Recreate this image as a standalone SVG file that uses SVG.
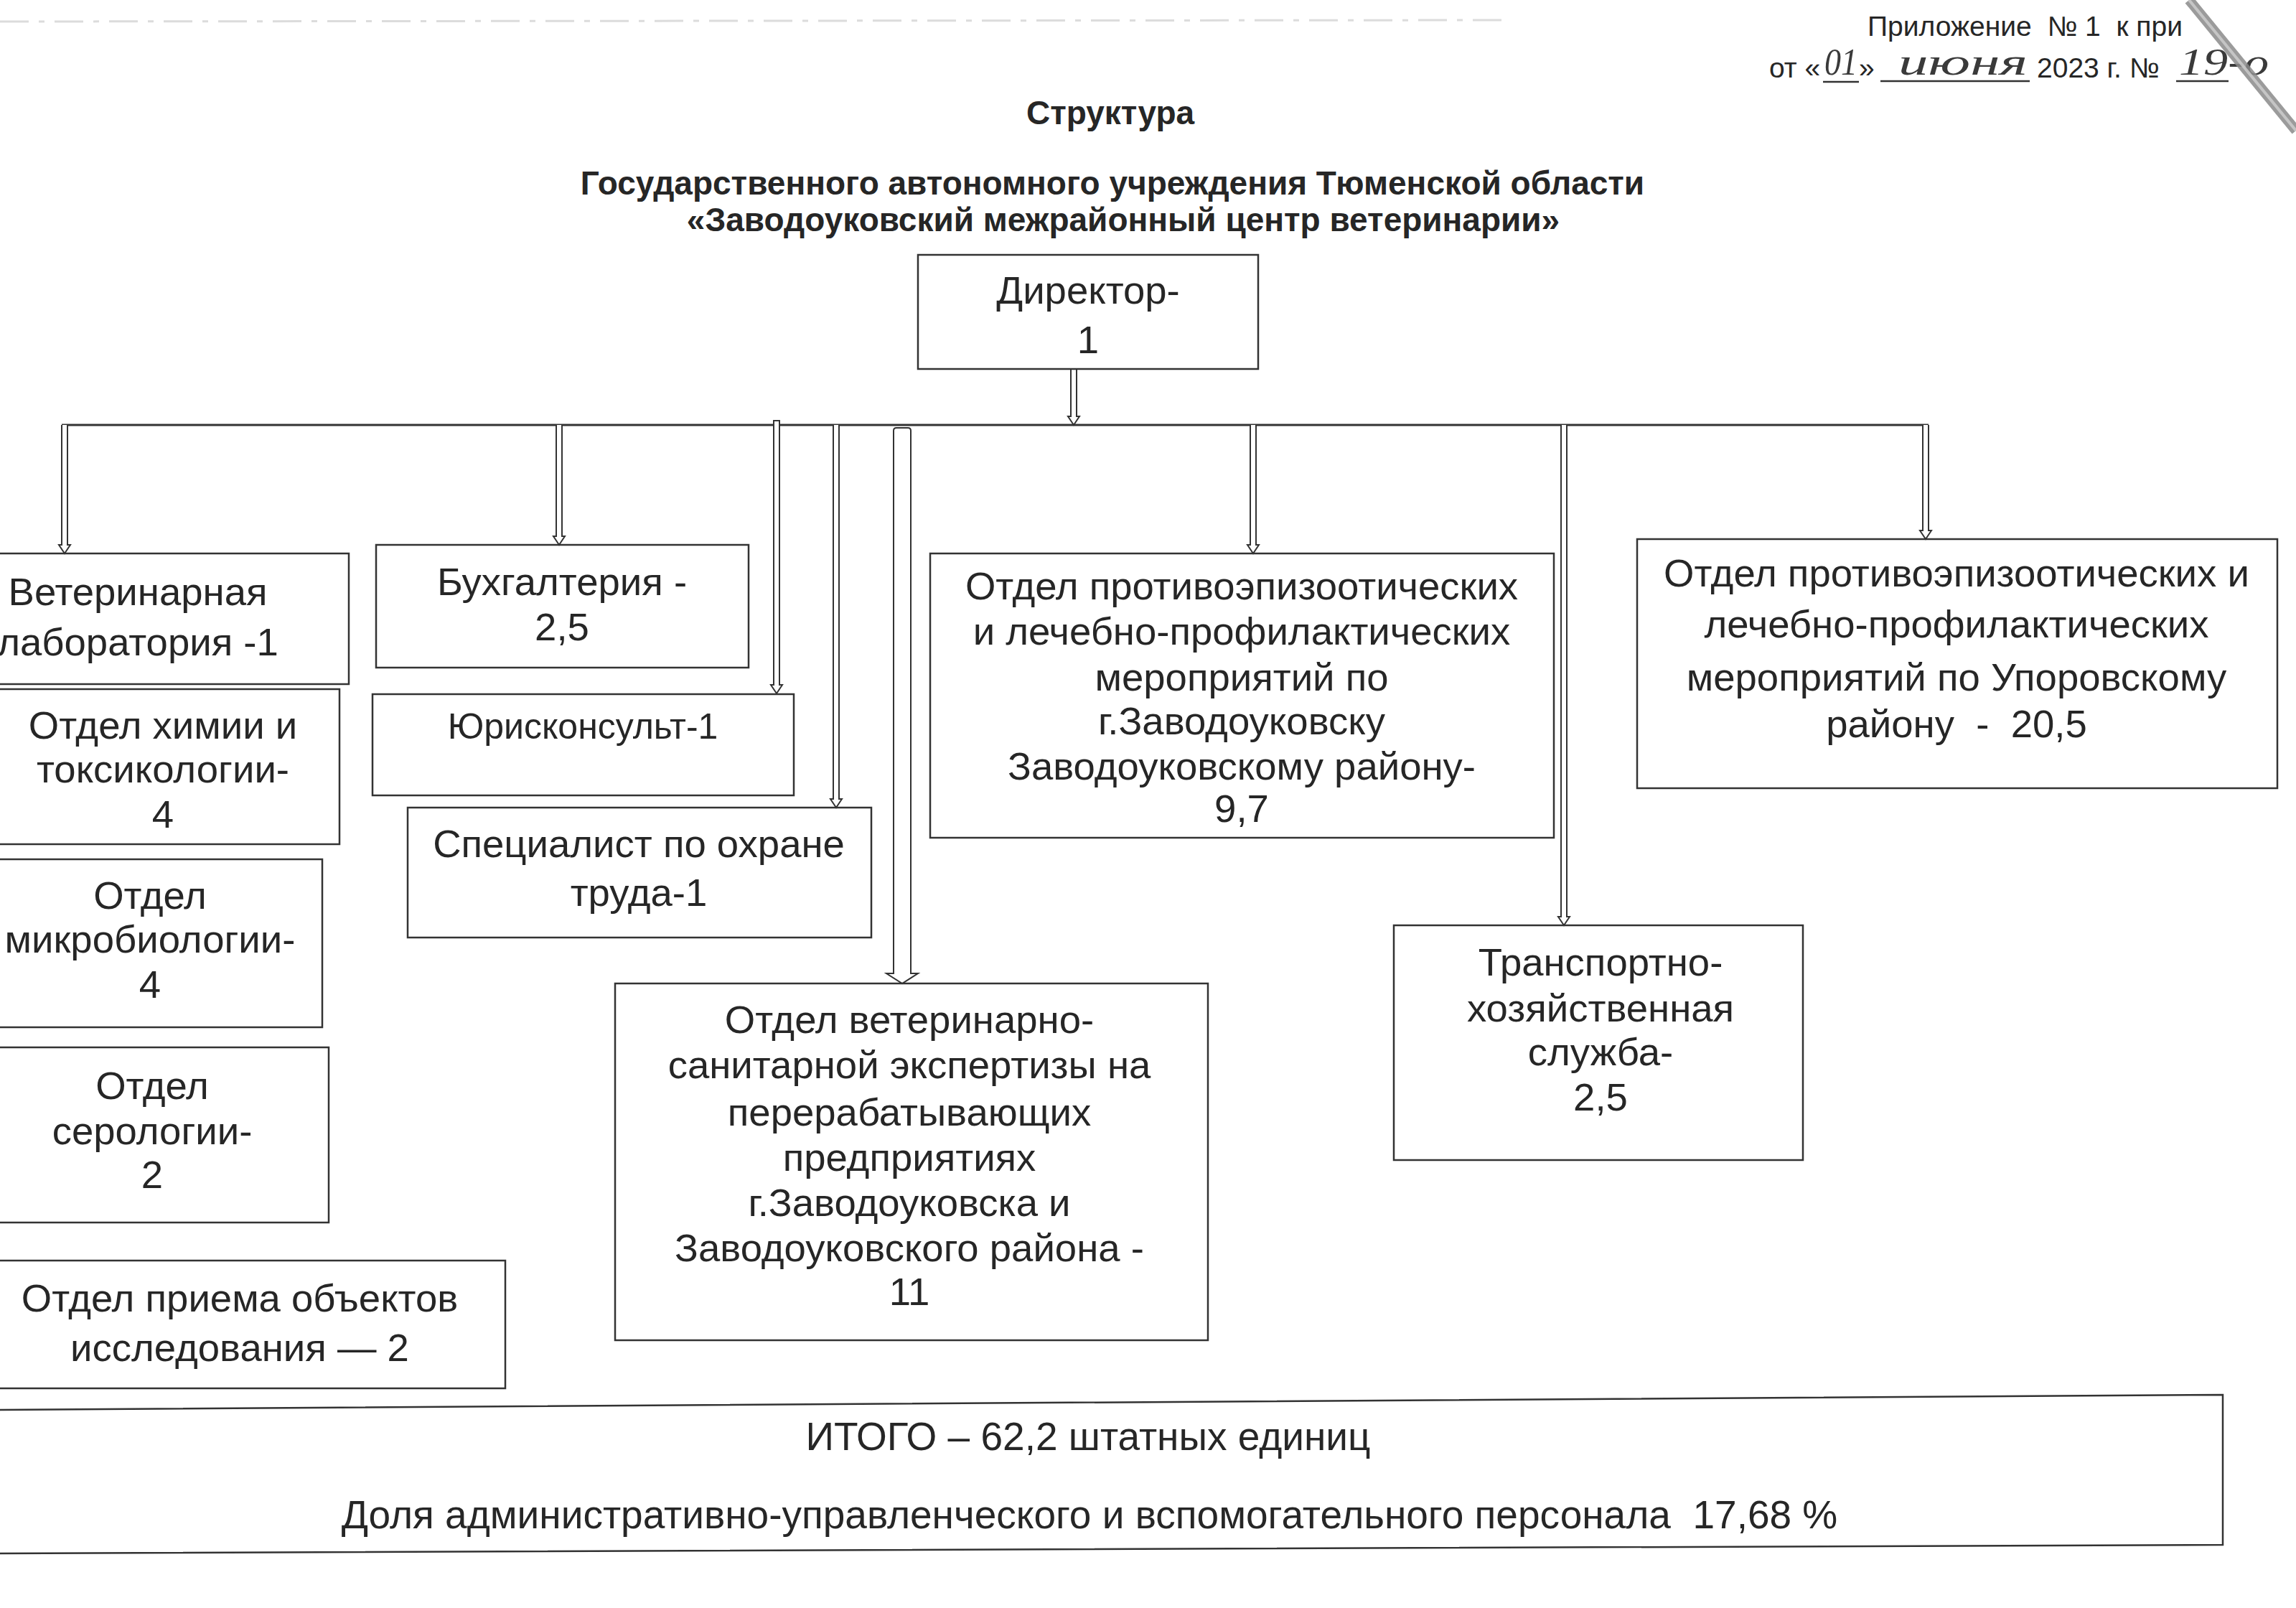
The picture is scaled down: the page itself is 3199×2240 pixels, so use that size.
<svg xmlns="http://www.w3.org/2000/svg" width="3199" height="2240" viewBox="0 0 3199 2240">
<style>
  .bg { fill: #ffffff; }
  .box { fill: none; stroke: #333; stroke-width: 2.5; }
  .t { font-family: "Liberation Sans", Arial, sans-serif; font-size: 54.5px; fill: #262626; text-anchor: middle; }
  .ts { font-size: 50px; }
  .title { font-family: "Liberation Sans", Arial, sans-serif; font-weight: bold; font-size: 46px; fill: #262626; text-anchor: middle; }
  .hdr { font-family: "Liberation Sans", Arial, sans-serif; font-size: 39px; fill: #262626; }
  .hand { font-family: "Liberation Serif", "Times New Roman", serif; font-style: italic; font-size: 52px; fill: #3a3a3a; }
  .ul { stroke: #333; stroke-width: 2.5; }
  .arr { fill: #ffffff; stroke: #333; stroke-width: 2; stroke-linejoin: miter; }
  .bus { stroke: #333; stroke-width: 3; fill: none; }
</style>
<rect class="bg" x="0" y="0" width="3199" height="2240"/>

<!-- scan artefacts -->
<line x1="0" y1="30" x2="2100" y2="28" stroke="#dcdcdc" stroke-width="3" stroke-dasharray="40 14 8 14"/>

<!-- header -->
<g id="header">
  <text class="hdr" x="2602" y="50" xml:space="preserve">Приложение  № 1  к при</text>
  <text class="hdr" x="2465" y="108">от «</text>
  <text class="hand" x="2542" y="104" textLength="46" lengthAdjust="spacingAndGlyphs">01</text>
  <line class="ul" x1="2540" y1="114" x2="2590" y2="114"/>
  <text class="hdr" x="2590" y="108">»</text>
  <line class="ul" x1="2620" y1="113" x2="2828" y2="113"/>
  <text class="hand" x="2645" y="104" textLength="180" lengthAdjust="spacingAndGlyphs">июня</text>
  <text class="hdr" x="2838" y="108">2023 г. №</text>
  <text class="hand" x="3036" y="104" textLength="125" lengthAdjust="spacingAndGlyphs">19-о</text>
  <line class="ul" x1="3032" y1="113" x2="3105" y2="113"/>
</g>
<line x1="3050" y1="0" x2="3199" y2="182" stroke="#8a8a8a" stroke-width="14" opacity="0.85"/>
<line x1="3050" y1="0" x2="3199" y2="182" stroke="#d0d0d0" stroke-width="4" opacity="0.8"/>

<!-- title -->
<g id="title">
  <text class="title" x="1547" y="173">Структура</text>
  <text class="title" x="1550" y="271">Государственного автономного учреждения Тюменской области</text>
  <text class="title" x="1565" y="322">«Заводоуковский межрайонный центр ветеринарии»</text>
</g>

<!-- connectors -->
<g id="connectors">
  <line class="bus" x1="86" y1="592" x2="2687" y2="592"/>
  <path class="arr" d="M1492,514 V580 H1488 L1496,592 L1504,580 H1500 V514"/>
  <path class="arr" d="M86,592 V759 H82 L90,771 L98,759 H94 V592"/>
  <path class="arr" d="M775,592 V747 H771 L779,759 L787,747 H783 V592"/>
  <path class="arr" d="M1078,586 V954 H1074 L1082,966 L1090,954 H1086 V586 Z"/>
  <path class="arr" d="M1161,592 V1113 H1157 L1165,1125 L1173,1113 H1169 V592"/>
  <path class="arr" d="M1245,600 Q1245,596 1249,596 H1265 Q1269,596 1269,600 V1356 H1279 L1257,1370 L1235,1356 H1245 Z"/>
  <path class="arr" d="M1742,592 V759 H1738 L1746,771 L1754,759 H1750 V592"/>
  <path class="arr" d="M2175,592 V1277 H2171 L2179,1289 L2187,1277 H2183 V592"/>
  <path class="arr" d="M2679,592 V739 H2675 L2683,751 L2691,739 H2687 V592"/>
</g>

<!-- nodes -->
<g id="director">
  <rect class="box" x="1279" y="355" width="474" height="159"/>
  <text class="t" x="1516" y="423">Директор-</text>
  <text class="t" x="1516" y="492">1</text>
</g>

<g id="vetlab">
  <rect class="box" x="-10" y="771" width="496" height="182"/>
  <text class="t" x="192" y="843">Ветеринарная</text>
  <text class="t" x="192" y="913">лаборатория -1</text>
</g>

<g id="chemistry">
  <rect class="box" x="-10" y="960" width="483" height="216"/>
  <text class="t" x="227" y="1029">Отдел химии и</text>
  <text class="t" x="227" y="1090">токсикологии-</text>
  <text class="t" x="227" y="1153">4</text>
</g>

<g id="microbiology">
  <rect class="box" x="-10" y="1197" width="459" height="234"/>
  <text class="t" x="209" y="1266">Отдел</text>
  <text class="t" x="209" y="1327">микробиологии-</text>
  <text class="t" x="209" y="1390">4</text>
</g>

<g id="serology">
  <rect class="box" x="-10" y="1459" width="468" height="244"/>
  <text class="t" x="212" y="1531">Отдел</text>
  <text class="t" x="212" y="1594">серологии-</text>
  <text class="t" x="212" y="1655">2</text>
</g>

<g id="reception">
  <rect class="box" x="-10" y="1756" width="714" height="178"/>
  <text class="t" x="334" y="1827">Отдел приема объектов</text>
  <text class="t" x="334" y="1896">исследования — 2</text>
</g>

<g id="accounting">
  <rect class="box" x="524" y="759" width="519" height="171"/>
  <text class="t" x="783" y="829">Бухгалтерия -</text>
  <text class="t" x="783" y="892">2,5</text>
</g>

<g id="lawyer">
  <rect class="box" x="519" y="967" width="587" height="141"/>
  <text class="t ts" x="812" y="1029">Юрисконсульт-1</text>
</g>

<g id="safety">
  <rect class="box" x="568" y="1125" width="646" height="181"/>
  <text class="t" x="890" y="1194">Специалист по охране</text>
  <text class="t" x="890" y="1262">труда-1</text>
</g>

<g id="vetsan">
  <rect class="box" x="857" y="1370" width="826" height="497"/>
  <text class="t" x="1267" y="1439">Отдел ветеринарно-</text>
  <text class="t" x="1267" y="1502">санитарной экспертизы на</text>
  <text class="t" x="1267" y="1568">перерабатывающих</text>
  <text class="t" x="1267" y="1631">предприятиях</text>
  <text class="t" x="1267" y="1694">г.Заводоуковска и</text>
  <text class="t" x="1267" y="1757">Заводоуковского района -</text>
  <text class="t" x="1267" y="1818">11</text>
</g>

<g id="zavodoukovsk">
  <rect class="box" x="1296" y="771" width="869" height="396"/>
  <text class="t" x="1730" y="835">Отдел противоэпизоотических</text>
  <text class="t" x="1730" y="898">и лечебно-профилактических</text>
  <text class="t" x="1730" y="962">мероприятий по</text>
  <text class="t" x="1730" y="1023">г.Заводоуковску</text>
  <text class="t" x="1730" y="1086">Заводоуковскому району-</text>
  <text class="t" x="1730" y="1145">9,7</text>
</g>

<g id="transport">
  <rect class="box" x="1942" y="1289" width="570" height="327"/>
  <text class="t" x="2230" y="1359">Транспортно-</text>
  <text class="t" x="2230" y="1423">хозяйственная</text>
  <text class="t" x="2230" y="1484">служба-</text>
  <text class="t" x="2230" y="1547">2,5</text>
</g>

<g id="uporovo">
  <rect class="box" x="2281" y="751" width="892" height="347"/>
  <text class="t" x="2726" y="817">Отдел противоэпизоотических и</text>
  <text class="t" x="2726" y="888">лечебно-профилактических</text>
  <text class="t" x="2726" y="962">мероприятий по Упоровскому</text>
  <text class="t" x="2726" y="1027" xml:space="preserve">району  -  20,5</text>
</g>

<g id="total">
  <path class="box" d="M-10,1964 L3097,1943 L3097,2152 L-10,2164 Z"/>
  <text class="t" x="1516" y="2020" style="font-size:55px">ИТОГО – 62,2 штатных единиц</text>
  <text class="t" x="1518" y="2129" style="font-size:55px" xml:space="preserve">Доля административно-управленческого и вспомогательного персонала  17,68 %</text>
</g>
</svg>
